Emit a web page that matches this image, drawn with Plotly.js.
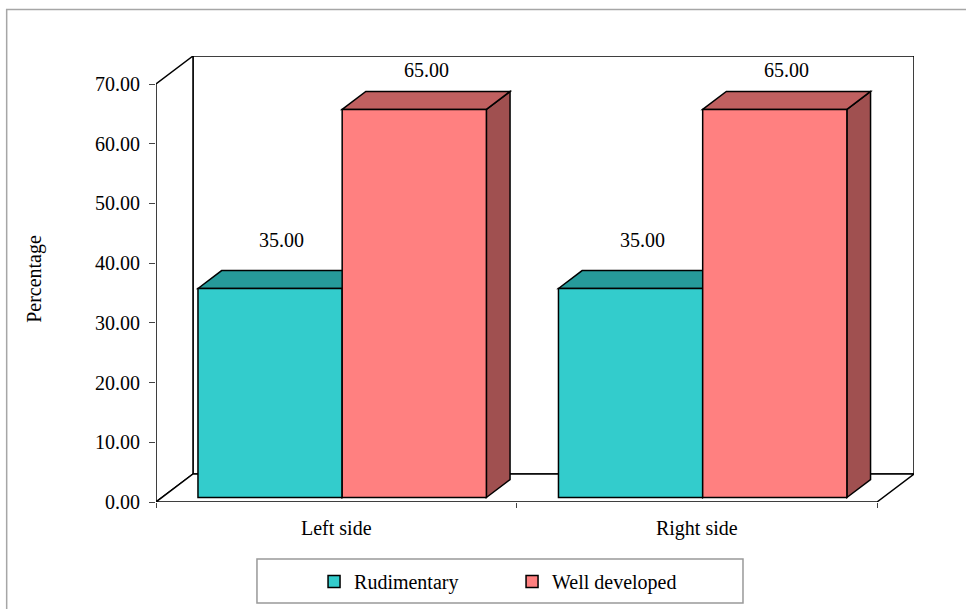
<!DOCTYPE html>
<html>
<head>
<meta charset="utf-8">
<script src="https://cdn.plot.ly/plotly-3.0.1.min.js"></script>
<style>html,body{margin:0;padding:0;background:#fff;}#chart{width:966px;height:609px;}</style>
</head>
<body>
<div id="chart"></div>
<script>
// ---- data ----
var categories = ["Left side", "Right side"];
var seriesNames = ["Rudimentary", "Well developed"];
var rudimentary = [35.00, 35.00];
var wellDeveloped = [65.00, 65.00];
var yTickVals = [0, 10, 20, 30, 40, 50, 60, 70];
var yTickText = ["0.00", "10.00", "20.00", "30.00", "40.00", "50.00", "60.00", "70.00"];

// ---- style / 3D geometry (in axis units) ----
var frontColors = ["#33CCCC", "#FF8080"];
var topColors = ["#269A9A", "#C06060"];
var sideColors = ["#1E7A7A", "#A05050"];
var labelShift = [40, 30];
var FONT = "Liberation Serif";
var DX = 0.1026, DY = 4.69;      // full depth of the 3D box
var F1 = 0.16, F2 = 0.80;        // bar front / back depth fractions
var BARW = 0.4;
var YMAX = 70;
var xCat = categories.map(function (c, i) { return i; });
var series = [rudimentary, wellDeveloped];
var offsets = [-BARW, 0];

var traces = series.map(function (vals, s) {
  return {
    type: "bar",
    name: seriesNames[s],
    x: xCat,
    y: vals,
    base: vals.map(function () { return F1 * DY; }),
    width: BARW,
    offset: offsets[s] + F1 * DX,
    marker: { color: frontColors[s], line: { color: "#000", width: 1.5 } },
    xaxis: "x", yaxis: "y",
    hovertemplate: "%{x}: %{y:.2f}<extra>" + seriesNames[s] + "</extra>"
  };
});
// dummy trace for category labels axis
traces.push({ type: "scatter", x: xCat, y: [0, 0], xaxis: "x2", yaxis: "y", mode: "none", showlegend: false, hoverinfo: "skip" });

var line = { color: "#000", width: 1.5 };
function poly(pts, fill) {
  var p = "M" + pts.map(function (q) { return q[0] + "," + q[1]; }).join(" L") + " Z";
  return { type: "path", xref: "x", yref: "y", path: p, fillcolor: fill, line: line, layer: "below" };
}
var x0 = -0.5, x1 = categories.length - 0.5;
var shapes = [];
// outer frame
shapes.push({ type: "rect", xref: "paper", yref: "paper", x0: -0.197, x1: 1.2, y0: -0.4, y1: 1.1045, line: { color: "#A6A6A6", width: 1.5 }, fillcolor: "rgba(0,0,0,0)", layer: "below" });
// back wall, left wall, floor
shapes.push(poly([[x0 + DX, DY], [x1 + DX, DY], [x1 + DX, YMAX + DY], [x0 + DX, YMAX + DY]], "#fff"));
shapes.push(poly([[x0, 0], [x0 + DX, DY], [x0 + DX, YMAX + DY], [x0, YMAX]], "#fff"));
shapes.push(poly([[x0, 0], [x1, 0], [x1 + DX, DY], [x0 + DX, DY]], "#fff"));
// bar top and side faces
xCat.forEach(function (xc, i) {
  series.forEach(function (vals, s) {
    var v = vals[i];
    var a = xc + offsets[s], b = a + BARW;
    shapes.push(poly([[b + F1 * DX, F1 * DY], [b + F2 * DX, F2 * DY], [b + F2 * DX, v + F2 * DY], [b + F1 * DX, v + F1 * DY]], sideColors[s]));
    shapes.push(poly([[a + F1 * DX, v + F1 * DY], [a + F2 * DX, v + F2 * DY], [b + F2 * DX, v + F2 * DY], [b + F1 * DX, v + F1 * DY]], topColors[s]));
  });
});
// legend box
shapes.push({ type: "rect", xref: "paper", yref: "paper", x0: 0.1332, x1: 0.7744, y0: -0.2265, y1: -0.1278, line: { color: "#999", width: 1.5 }, fillcolor: "#fff", layer: "below" });

// data labels
var FM = (F1 + F2) / 2;
var annotations = [];
xCat.forEach(function (xc, i) {
  series.forEach(function (vals, s) {
    var v = vals[i];
    annotations.push({
      x: xc + offsets[s] + BARW / 2 + FM * DX, y: v + FM * DY, xref: "x", yref: "y",
      text: v.toFixed(2), showarrow: false, yanchor: "middle", yshift: labelShift[s],
      font: { family: FONT, size: 20, color: "#000" }
    });
  });
});

var layout = {
  width: 966, height: 609,
  margin: { l: 156, r: 52, t: 56, b: 107, autoexpand: false },
  paper_bgcolor: "#fff", plot_bgcolor: "rgba(0,0,0,0)",
  barmode: "overlay",
  font: { family: FONT, size: 20, color: "#000" },
  xaxis: {
    range: [x0, x1 + DX], tickvals: [-0.5, 0.5, 1.5], showticklabels: false,
    ticks: "outside", ticklen: 5, tickcolor: "#444", tickwidth: 1, automargin: false,
    showgrid: false, zeroline: false, showline: false, fixedrange: true
  },
  xaxis2: {
    overlaying: "x", matches: "x", range: [x0, x1 + DX], tickvals: xCat, ticktext: categories,
    ticks: "", showgrid: false, zeroline: false, showline: false, side: "bottom", automargin: false,
    ticklabelstandoff: 12, tickfont: { family: FONT, size: 20, color: "#000" }
  },
  yaxis: {
    range: [0, YMAX + DY], tickvals: yTickVals, ticktext: yTickText,
    ticks: "outside", ticklen: 6, tickcolor: "#444", tickwidth: 1,
    ticklabelstandoff: 5, automargin: false,
    tickfont: { family: FONT, size: 20, color: "#000" },
    showgrid: false, zeroline: false, showline: false, fixedrange: true,
    title: { text: "Percentage", font: { family: FONT, size: 20, color: "#000" }, standoff: 48 }
  },
  showlegend: true,
  legend: {
    orientation: "h", x: 0.2085, y: -0.1345, xanchor: "left", yanchor: "top",
    bgcolor: "rgba(0,0,0,0)", borderwidth: 0, itemwidth: 30,
    entrywidth: 153, entrywidthmode: "pixels",
    font: { family: FONT, size: 20, color: "#000" }
  },
  shapes: shapes,
  annotations: annotations
};

Plotly.newPlot("chart", traces, layout, { displayModeBar: false, staticPlot: false });
</script>
</body>
</html>
